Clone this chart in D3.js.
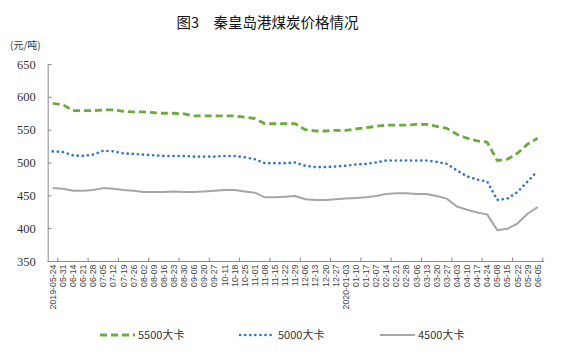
<!DOCTYPE html>
<html><head><meta charset="utf-8">
<script src="https://cdn.jsdelivr.net/npm/d3@7"></script>
<style>
html,body{margin:0;padding:0;background:#fff;}
svg{display:block;}
</style>
</head><body>
<svg id="chart" width="561" height="357"></svg>
<script>
const categories = ["2019-05-24","05-31","06-14","06-21","06-28","07-05","07-12","07-19","07-26","08-02","08-09","08-16","08-23","08-30","09-06","09-20","09-27","10-11","10-18","10-25","11-01","11-08","11-15","11-22","11-29","12-06","12-13","12-20","12-27","2020-01-03","01-10","01-17","02-07","02-14","02-21","02-28","03-06","03-13","03-20","03-27","04-03","04-10","04-17","04-24","05-08","05-15","05-22","05-29","06-05"];
const s5500 = [590,588,579,579,579,580,580,578,577,577,576,575,575,574,571,571,571,571,571,569,567,559,559,559,559,550,548,548,549,549,551,553,555,557,557,557,558,558,555,552,543,537,533,531,503,505,514,528,537];
const s5000 = [517,516,511,510,512,518,517,514,513,512,511,510,510,510,509,509,509,510,510,508,505,499,499,499,500,495,493,493,494,495,497,498,500,503,503,503,503,503,501,498,488,479,474,471,443,445,455,471,487];
const s4500 = [461,460,457,457,458,461,460,458,457,455,455,455,456,455,455,456,457,458,458,456,454,447,447,448,449,444,443,443,444,445,446,447,449,452,453,453,452,452,449,445,433,428,424,421,397,399,407,422,432];
const yTicks = [350,400,450,500,550,600,650];
const seriesNames = ["5500大卡","5000大卡","4500大卡"];
const titleText = "图3\u2003秦皇岛港煤炭价格情况";
const unitText = "(元/吨)";

(function () {
const svg = d3.select("#chart");
const mLeft = 47.7, mRight = 542.7, mTop = 64, mBottom = 261;

const x = d3.scaleBand().domain(categories).range([mLeft, mRight]).padding(0);
const y = d3.scaleLinear().domain([350, 650]).range([mBottom, mTop]);
const bw = x.bandwidth();
const cx = d => x(d) + bw / 2;

// title
svg.append("text").attr("x", 267.5).attr("y", 28).attr("text-anchor", "middle")
  .attr("font-family", "'Noto Sans CJK SC', sans-serif").attr("font-size", 14.5)
  .attr("fill", "#111").text(titleText);
svg.append("text").attr("x", 10).attr("y", 49)
  .attr("font-family", "'Noto Sans CJK SC', sans-serif").attr("font-size", 10)
  .attr("fill", "#333").text(unitText);

// y axis
const yAxis = svg.append("g").attr("transform", `translate(${mLeft},0)`)
  .call(d3.axisLeft(y).tickValues(yTicks).tickSizeInner(-4).tickSizeOuter(0).tickPadding(12));
yAxis.select(".domain").attr("stroke", "#8c8c8c");
yAxis.selectAll(".tick line").attr("stroke", "#8c8c8c");
yAxis.selectAll("text").attr("font-family", "'Liberation Serif', serif").attr("font-size", 12.5).attr("fill", "#333");

// x axis
const xAxis = svg.append("g").attr("transform", `translate(0,${mBottom})`)
  .call(d3.axisBottom(x).tickSize(0).tickPadding(4));
xAxis.select(".domain").attr("stroke", "#8c8c8c").attr("d", `M${mLeft},0.5H${mRight + 1.5}`);
xAxis.selectAll("text")
  .attr("font-family", "'Liberation Sans', Arial, sans-serif").attr("font-size", 8.8)
  .attr("fill", "#444")
  .attr("transform", "rotate(-90)")
  .attr("text-anchor", "end")
  .attr("dy", "0.35em")
  .attr("x", -3.5).attr("y", 0);
// tick marks every 3 categories at band boundaries
const tickCats = categories.filter((d, i) => i % 3 === 0);
svg.append("g").selectAll("line").data(tickCats).join("line")
  .attr("x1", d => x(d) + bw).attr("x2", d => x(d) + bw)
  .attr("y1", mBottom).attr("y2", mBottom - 3.5)
  .attr("stroke", "#8c8c8c");

// lines
const line = d3.line().x((v, i) => cx(categories[i])).y(v => y(v));
const styles = [
  {data: s5500, color: "#6BAB3E", dash: "7,4", width: 2.8, cap: "butt"},
  {data: s5000, color: "#2F72CF", dash: "0.1,5", width: 2.6, cap: "round"},
  {data: s4500, color: "#A6A6A6", dash: null, width: 2, cap: "butt"}
];
styles.forEach(s => {
  svg.append("path").datum(s.data).attr("d", line)
    .attr("fill", "none").attr("stroke", s.color).attr("stroke-width", s.width)
    .attr("stroke-dasharray", s.dash).attr("stroke-linecap", s.cap)
    .attr("stroke-linejoin", "round");
});

// legend
const legendX = [100, 240, 380];
const legend = svg.append("g");
styles.forEach((s, i) => {
  legend.append("line").attr("x1", legendX[i]).attr("x2", legendX[i] + 35)
    .attr("y1", 335).attr("y2", 335)
    .attr("stroke", s.color).attr("stroke-width", s.width)
    .attr("stroke-dasharray", s.dash).attr("stroke-linecap", s.cap);
  legend.append("text").attr("x", legendX[i] + 38).attr("y", 339)
    .attr("font-family", "'Noto Sans CJK SC', sans-serif").attr("font-size", 11)
    .attr("fill", "#333").text(seriesNames[i]);
});
})();
</script>
</body></html>
